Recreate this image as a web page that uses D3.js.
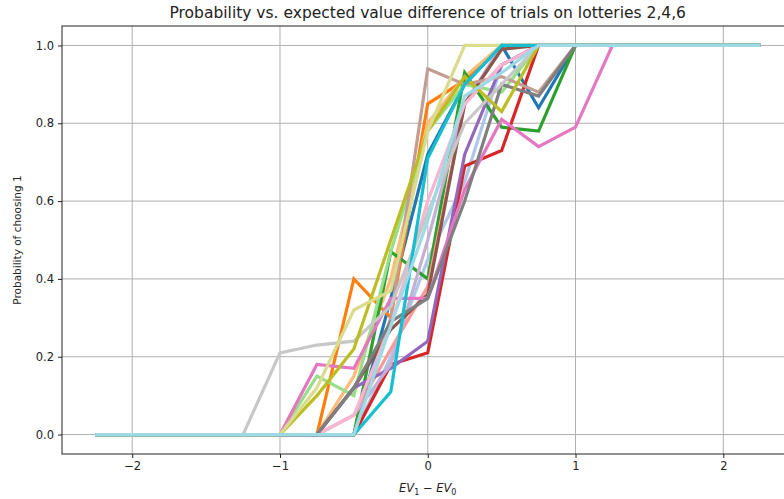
<!DOCTYPE html>
<html>
<head>
<meta charset="utf-8">
<script src="https://cdn.jsdelivr.net/npm/d3@7"></script>
<style>
  body { margin: 0; background: #fff; }
  svg { display: block; font-family: "DejaVu Sans", sans-serif; }
</style>
</head>
<body>
<svg id="chart" width="784" height="499"></svg>
<script>
// EV difference grid shared by every participant curve
const evDiff = [-2.25, -2, -1.75, -1.5, -1.25, -1, -0.75, -0.5, -0.25, 0,
                0.25, 0.5, 0.75, 1, 1.25, 1.5, 1.75, 2, 2.25];

// Probability of choosing lottery 1, one array per participant
const p00 = [0,0,0,0,0, 0,0,0,0.35,0.72,0.90,1.00,0.84,1,1,1,1,1,1];
const p01 = [0,0,0,0,0, 0,0,0,0.20,0.45,0.65,0.95,1,1,1,1,1,1,1];
const p02 = [0,0,0,0,0, 0,0,0.40,0.30,0.85,0.91,1,1,1,1,1,1,1,1];
const p03 = [0,0,0,0,0, 0,0,0.15,0.40,0.80,0.92,1,1,1,1,1,1,1,1];
const p04 = [0,0,0,0,0, 0,0,0,0.47,0.40,0.93,0.79,0.78,1,1,1,1,1,1];
const p05 = [0,0,0,0,0, 0,0.15,0.10,0.47,0.78,0.90,0.88,1,1,1,1,1,1,1];
const p06 = [0,0,0,0,0, 0,0,0,0.18,0.21,0.69,0.73,1,1,1,1,1,1,1];
const p07 = [0,0,0,0,0, 0,0,0.05,0.22,0.38,0.85,0.95,1,1,1,1,1,1,1];
const p08 = [0,0,0,0,0, 0,0,0.12,0.17,0.24,0.72,0.95,1,1,1,1,1,1,1];
const p09 = [0,0,0,0,0, 0,0,0.05,0.18,0.50,0.85,1,1,1,1,1,1,1,1];
const p10 = [0,0,0,0,0, 0,0,0.12,0.27,0.36,0.85,0.99,1,1,1,1,1,1,1];
const p11 = [0,0,0,0,0, 0,0,0,0.30,0.94,0.90,0.92,0.88,1,1,1,1,1,1];
const p12 = [0,0,0,0,0, 0,0.18,0.17,0.35,0.35,0.63,0.81,0.74,0.79,1,1,1,1,1];
const p13 = [0,0,0,0,0, 0,0,0.05,0.28,0.60,0.85,0.95,1,1,1,1,1,1,1];
const p14 = [0,0,0,0,0, 0,0,0.12,0.29,0.35,0.60,0.90,0.87,1,1,1,1,1,1];
const p15 = [0,0,0,0,0, 0.21,0.23,0.24,0.33,0.57,0.80,0.90,1,1,1,1,1,1,1];
const p16 = [0,0,0,0,0, 0,0.10,0.22,0.50,0.78,0.92,0.83,1,1,1,1,1,1,1];
const p17 = [0,0,0,0,0, 0,0.12,0.32,0.37,0.78,1,1,1,1,1,1,1,1,1];
const p18 = [0,0,0,0,0, 0,0,0,0.11,0.71,0.90,1,1,1,1,1,1,1,1];
const p19 = [0,0,0,0,0, 0,0,0,0.28,0.55,0.87,0.93,1,1,1,1,1,1,1];

const curves = [p00,p01,p02,p03,p04,p05,p06,p07,p08,p09,
                p10,p11,p12,p13,p14,p15,p16,p17,p18,p19];

const palette = ["#1f77b4","#aec7e8","#ff7f0e","#ffbb78","#2ca02c","#98df8a",
                 "#d62728","#ff9896","#9467bd","#c5b0d5","#8c564b","#c49c94",
                 "#e377c2","#f7b6d2","#7f7f7f","#c7c7c7","#bcbd22","#dbdb8d",
                 "#17becf","#9edae5"];

const xTicks = [-2, -1, 0, 1, 2];
const yTicks = [0, 0.2, 0.4, 0.6, 0.8, 1.0];

const svg = d3.select("#chart");
const plotLeft = 62, plotRight = 793.5, plotTop = 26, plotBottom = 454;

const x = d3.scaleLinear().domain([-2.475, 2.475]).range([plotLeft, plotRight]);
const y = d3.scaleLinear().domain([-0.05, 1.05]).range([plotBottom, plotTop]);

// grid
svg.append("g").selectAll("line").data(xTicks).join("line")
  .attr("x1", d => x(d)).attr("x2", d => x(d))
  .attr("y1", plotTop).attr("y2", plotBottom)
  .attr("stroke", "#b0b0b0").attr("stroke-width", 1);
svg.append("g").selectAll("line").data(yTicks).join("line")
  .attr("x1", plotLeft).attr("x2", plotRight)
  .attr("y1", d => y(d)).attr("y2", d => y(d))
  .attr("stroke", "#b0b0b0").attr("stroke-width", 1);

// curves
const line = d3.line().x((d, i) => x(evDiff[i])).y(d => y(d));
svg.append("g").selectAll("path").data(curves).join("path")
  .attr("d", d => line(d))
  .attr("fill", "none")
  .attr("stroke", (d, i) => palette[i])
  .attr("stroke-width", 3.2)
  .attr("stroke-linejoin", "miter");

// axes
const fmtX = d => (d < 0 ? "\u2212" + Math.abs(d) : String(d));
const xAxis = svg.append("g").attr("transform", `translate(0,${plotBottom})`)
  .call(d3.axisBottom(x).tickValues(xTicks).tickFormat(fmtX).tickSize(4).tickPadding(4));
const yAxis = svg.append("g").attr("transform", `translate(${plotLeft},0)`)
  .call(d3.axisLeft(y).tickValues(yTicks).tickFormat(d3.format(".1f")).tickSize(4).tickPadding(4));
[xAxis, yAxis].forEach(g => {
  g.selectAll("text").attr("font-size", 11.5).attr("fill", "#222")
    .attr("font-family", "DejaVu Sans, sans-serif");
  g.selectAll("line").attr("stroke", "#222").attr("stroke-width", 1);
  g.select(".domain").remove();
});

// spines
svg.append("rect").attr("x", plotLeft).attr("y", plotTop)
  .attr("width", plotRight - plotLeft).attr("height", plotBottom - plotTop)
  .attr("fill", "none").attr("stroke", "#222").attr("stroke-width", 1);

// title
svg.append("text").attr("x", (plotLeft + plotRight) / 2).attr("y", 18)
  .attr("text-anchor", "middle").attr("font-size", 15.5).attr("fill", "#222")
  .text("Probability vs. expected value difference of trials on lotteries 2,4,6");

// x label: EV_1 − EV_0
const xl = svg.append("text").attr("x", (plotLeft + plotRight) / 2).attr("y", 492)
  .attr("text-anchor", "middle").attr("font-size", 11.5).attr("fill", "#222");
xl.append("tspan").attr("font-style", "italic").text("EV");
xl.append("tspan").attr("font-size", 8).attr("dy", 2.5).text("1");
xl.append("tspan").attr("dy", -2.5).text(" \u2212 ");
xl.append("tspan").attr("font-style", "italic").text("EV");
xl.append("tspan").attr("font-size", 8).attr("dy", 2.5).text("0");

// y label
svg.append("text")
  .attr("transform", `translate(21,${(plotTop + plotBottom) / 2}) rotate(-90)`)
  .attr("text-anchor", "middle").attr("font-size", 10.5).attr("fill", "#222")
  .text("Probability of choosing 1");
</script>
</body>
</html>
